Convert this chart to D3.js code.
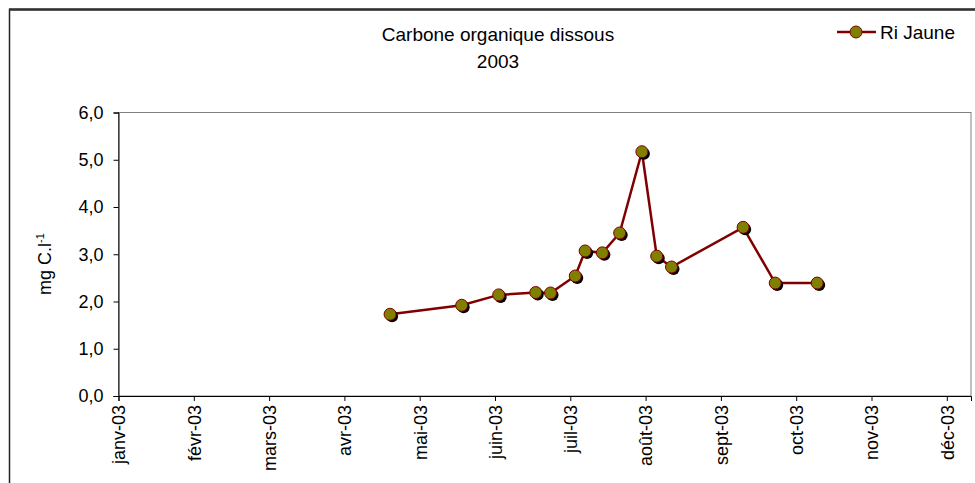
<!DOCTYPE html>
<html>
<head>
<meta charset="utf-8">
<script src="https://cdn.jsdelivr.net/npm/d3@7"></script>
<style>
  body { margin: 0; background: #fff; }
  svg text { font-family: "Liberation Sans", Arial, sans-serif; fill: #000; }
</style>
</head>
<body>
<div id="chart"></div>
<script>
// sampling dates and dissolved organic carbon (mg C/l)
var dates  = ["2003-04-21","2003-05-20","2003-06-04","2003-06-19","2003-06-25","2003-07-05","2003-07-09",
              "2003-07-16","2003-07-23","2003-08-01","2003-08-07","2003-08-13","2003-09-11","2003-09-24","2003-10-11"];
var values = [1.73, 1.92, 2.14, 2.19, 2.18, 2.54, 3.07, 3.03, 3.45, 5.17, 2.96, 2.73, 3.57, 2.39, 2.39];
var monthLabels = ["janv-03","févr-03","mars-03","avr-03","mai-03","juin-03","juil-03","août-03","sept-03","oct-03","nov-03","déc-03"];
var yTicks = [0, 1, 2, 3, 4, 5, 6];
var seriesName = "Ri Jaune";

var width = 975, height = 483;
var margin = {left: 118.5, right: 4, top: 112.5, bottom: 87};

var parseDate = d3.timeParse("%Y-%m-%d");
var start = parseDate("2003-01-01");
var data = dates.map(function(d, i){ return {day: d3.timeDay.count(start, parseDate(d)), value: values[i]}; });

var svg = d3.select("#chart").append("svg").attr("width", width).attr("height", height);

// outer chart frame
svg.append("rect").attr("x", 9.5).attr("y", 9.5).attr("width", 1000).attr("height", 1000)
   .attr("fill", "none").attr("stroke", "#222").attr("stroke-width", 1.5);
svg.append("line").attr("x1", 9).attr("y1", 9.5).attr("x2", 975).attr("y2", 9.5)
   .attr("stroke", "#333").attr("stroke-width", 2.5);

var x = d3.scaleLinear().domain([0, 345.3]).range([margin.left, width - margin.right]);
var y = d3.scaleLinear().domain([0, 6]).range([height - margin.bottom, margin.top]);

// plot area border
svg.append("rect").attr("x", x(0)).attr("y", y(6)).attr("width", x(345.3) - x(0)).attr("height", y(0) - y(6))
   .attr("fill", "none").attr("stroke", "#808080").attr("stroke-width", 1);

var yAxis = d3.axisLeft(y).tickValues(yTicks).tickSize(5).tickPadding(10)
              .tickFormat(function(d){ return d3.format(".1f")(d).replace(".", ","); });
var xAxis = d3.axisBottom(x).tickValues(monthLabels.map(function(m, i){ return i * 30.5; })).tickSize(5)
              .tickFormat(function(d, i){ return monthLabels[i]; });

var gy = svg.append("g").attr("transform", "translate(" + x(0) + ",0)").call(yAxis);
gy.selectAll("text").style("font-size", "18px");

var gx = svg.append("g").attr("transform", "translate(0," + y(0) + ")").call(xAxis);
gx.selectAll("text").style("font-size", "18px")
  .attr("transform", "rotate(-90)").attr("text-anchor", "end")
  .attr("x", -9).attr("y", 0).attr("dy", "0.35em");

svg.selectAll(".domain, .tick line").attr("stroke", "#000");

// y label
var yl = svg.append("text").attr("transform", "translate(51,264) rotate(-90)")
  .attr("text-anchor", "middle").style("font-size", "18px");
yl.append("tspan").text("mg C.l");
yl.append("tspan").attr("dy", -7).style("font-size", "11px").text("-1");

// title
svg.append("text").attr("x", 498).attr("y", 41).attr("text-anchor", "middle").style("font-size", "19px").text("Carbone organique dissous");
svg.append("text").attr("x", 498).attr("y", 68).attr("text-anchor", "middle").style("font-size", "19px").text("2003");

var line = d3.line().x(function(d){ return x(d.day); }).y(function(d){ return y(d.value); });

svg.append("path").attr("d", line(data)).attr("fill", "none").attr("stroke", "#800000").attr("stroke-width", 2.5);

// marker shadows, then markers
svg.append("g").selectAll("circle").data(data).enter().append("circle")
   .attr("cx", function(d){ return x(d.day) + 2; }).attr("cy", function(d){ return y(d.value) + 2; })
   .attr("r", 6).attr("fill", "#000");
svg.append("g").selectAll("circle").data(data).enter().append("circle")
   .attr("cx", function(d){ return x(d.day); }).attr("cy", function(d){ return y(d.value); })
   .attr("r", 6).attr("fill", "#808000").attr("stroke", "#800000").attr("stroke-width", 1);

// legend
var lg = svg.append("g").attr("transform", "translate(837,32)");
lg.append("line").attr("x1", 0).attr("x2", 39).attr("stroke", "#800000").attr("stroke-width", 2.5);
lg.append("circle").attr("cx", 19).attr("r", 6).attr("fill", "#808000").attr("stroke", "#800000");
lg.append("text").attr("x", 43).attr("y", 6.5).style("font-size", "19px").text(seriesName);
</script>
</body>
</html>
